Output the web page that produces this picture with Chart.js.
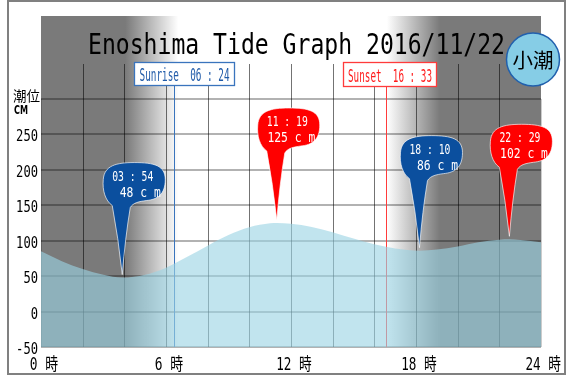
<!DOCTYPE html>
<html><head><meta charset="utf-8">
<script src="https://cdn.jsdelivr.net/npm/chart.js@4"></script>
<style>html,body{margin:0;padding:0;background:#fff;}#wrap{width:572px;height:376px;position:relative;}</style>
</head><body><div id="wrap"><canvas id="c"></canvas></div>
<script>
const titleText = "Enoshima Tide Graph 2016/11/22";
const tideName = "小潮";
const hours  = [0, 1, 2, 3, 3.9, 5, 6, 7, 8, 9, 10, 11, 11.32, 12, 13, 14, 15, 16, 17, 18.17, 19, 20, 21, 22, 22.48, 23, 24];
const tideCm = [85, 71, 60, 52, 48, 52, 62, 77, 93, 108, 119, 124.5, 125, 124, 119.5, 112, 103, 95, 89, 86, 87.5, 92, 98, 101.5, 102, 101, 98];
const extremeHours  = [3.9, 11.317, 18.167, 22.483];
const extremeCm     = [48, 125, 86, 102];
const extremeTimes  = ["03 : 54", "11 : 19", "18 : 10", "22 : 29"];
const extremeKinds  = ["low", "high", "low", "high"];
const sunriseHour = 6.4,  sunriseText = "Sunrise  06 : 24";
const sunsetHour  = 16.55, sunsetText  = "Sunset  16 : 33";
const yTicks      = [-50, 0, 50, 100, 150, 200, 250, 300];
const yTickLabels = ["-50", "0", "50", "100", "150", "200", "250", ""];
const xTickHours  = [0, 6, 12, 18, 24];
const xTickLabels = ["0 時", "6 時", "12 時", "18 時", "24 時"];
const gridHours   = [2, 4, 6, 8, 10, 12, 14, 16, 18, 20, 22];
const yAxisTitle1 = "潮位", yAxisTitle2 = "CM";

function fitText(ctx, text, x, y, font, width, align, color) {
  ctx.save();
  ctx.font = font; ctx.fillStyle = color; ctx.textBaseline = 'alphabetic'; ctx.textAlign = 'left';
  const w = ctx.measureText(text).width;
  const s = width / w;
  const left = align === 'left' ? x : (align === 'right' ? x - width : x - width / 2);
  ctx.translate(left, y); ctx.scale(s, 1);
  ctx.fillText(text, 0, 0);
  ctx.restore();
}

function balloon(ctx, px, py, color) {
  ctx.save(); ctx.translate(px, py);
  ctx.beginPath();
  ctx.moveTo(0, -3);
  ctx.quadraticCurveTo(-4, -40, -10, -72);
  ctx.bezierCurveTo(-17, -77, -20, -87, -19, -98);
  ctx.bezierCurveTo(-18, -112, -6, -115, 12, -115);
  ctx.bezierCurveTo(32, -115, 43, -112, 43, -98);
  ctx.bezierCurveTo(43, -83, 35, -78, 24, -77);
  ctx.bezierCurveTo(17, -76, 11, -75, 8, -70);
  ctx.quadraticCurveTo(3, -40, 0, -3);
  ctx.closePath();
  ctx.fillStyle = color; ctx.fill();
  ctx.strokeStyle = 'rgba(255,255,255,0.65)'; ctx.lineWidth = 1; ctx.stroke();
  ctx.restore();
}

const GRAY = '#7a7a7a';
const bgPlugin = {
  id: 'bg',
  beforeDatasetsDraw(chart) {
    const ctx = chart.ctx, xs = chart.scales.x, ys = chart.scales.y, a = chart.chartArea;
    ctx.save();
    // outer frame
    ctx.strokeStyle = '#808080'; ctx.lineWidth = 2;
    ctx.strokeRect(8, 1, 557, 373);
    // day / night background
    const top = 16, bot = a.bottom;
    const sr = xs.getPixelForValue(sunriseHour), ss = xs.getPixelForValue(sunsetHour);
    const f = p => Math.min(1, Math.max(0, (p - a.left) / (a.right - a.left)));
    const g = ctx.createLinearGradient(a.left, 0, a.right, 0);
    g.addColorStop(0, GRAY);
    g.addColorStop(f(sr - 49), GRAY);
    g.addColorStop(f(sr + 4), '#ffffff');
    g.addColorStop(f(ss + 1), '#ffffff');
    g.addColorStop(f(ss + 54), GRAY);
    g.addColorStop(1, GRAY);
    ctx.fillStyle = g;
    ctx.fillRect(a.left, top, a.right - a.left, bot - top);
    // horizontal grid
    ctx.strokeStyle = 'rgba(0,0,0,0.3)'; ctx.lineWidth = 2;
    yTicks.forEach(v => {
      const y = Math.round(ys.getPixelForValue(v));
      ctx.beginPath(); ctx.moveTo(a.left, y); ctx.lineTo(a.right, y); ctx.stroke();
    });
    // vertical grid
    ctx.strokeStyle = 'rgba(0,0,0,0.55)'; ctx.lineWidth = 1;
    gridHours.forEach(h => {
      const x = Math.round(xs.getPixelForValue(h)) + 0.5;
      ctx.beginPath(); ctx.moveTo(x, 64); ctx.lineTo(x, a.bottom); ctx.stroke();
    });
    ctx.strokeStyle = 'rgba(0,0,0,0.2)';
    [a.left, a.right].forEach(x0 => {
      const x = Math.round(x0) + 0.5;
      ctx.beginPath(); ctx.moveTo(x, a.top); ctx.lineTo(x, a.bottom); ctx.stroke();
    });
    // sunrise / sunset lines
    ctx.lineWidth = 1;
    ctx.strokeStyle = '#3a74bd';
    ctx.beginPath(); ctx.moveTo(Math.round(sr) + 0.5, 86); ctx.lineTo(Math.round(sr) + 0.5, a.bottom); ctx.stroke();
    ctx.strokeStyle = '#ff3b3b';
    ctx.beginPath(); ctx.moveTo(Math.round(ss) + 0.5, 87); ctx.lineTo(Math.round(ss) + 0.5, a.bottom); ctx.stroke();
    ctx.restore();
  }
};

const overlayPlugin = {
  id: 'overlay',
  afterDatasetsDraw(chart) {
    const ctx = chart.ctx, xs = chart.scales.x, ys = chart.scales.y, a = chart.chartArea;
    ctx.save();
    const sr = xs.getPixelForValue(sunriseHour), ss = xs.getPixelForValue(sunsetHour);
    // sunrise box
    const srL = Math.round(sr - 40) + 0.5;
    ctx.fillStyle = '#fff'; ctx.fillRect(srL, 62.5, 100, 23);
    ctx.strokeStyle = '#3a74bd'; ctx.lineWidth = 1.3; ctx.strokeRect(srL, 62.5, 100, 23);
    fitText(ctx, sunriseText, srL + 50, 81, "18px 'DejaVu Sans Mono'", 90, 'center', '#1f5aa8');
    // sunset box
    const ssL = Math.round(ss - 43) + 0.5;
    ctx.fillStyle = '#fff'; ctx.fillRect(ssL, 62.5, 93, 24);
    ctx.strokeStyle = '#ff3b3b'; ctx.lineWidth = 1.3; ctx.strokeRect(ssL, 62.5, 93, 24);
    fitText(ctx, sunsetText, ssL + 46.5, 82, "18px 'DejaVu Sans Mono'", 84, 'center', '#ff1a1a');
    // balloons
    extremeHours.forEach((h, i) => {
      const px = xs.getPixelForValue(h), py = ys.getPixelForValue(extremeCm[i]);
      balloon(ctx, px, py, extremeKinds[i] === 'low' ? '#0b4f9e' : '#ff0000');
      fitText(ctx, extremeTimes[i], px + 10.5, py - 97, "14px 'DejaVu Sans Mono'", 41, 'center', '#ffffff');
      const t2 = extremeCm[i] + " c m";
      fitText(ctx, t2, px + 38.5, py - 81, "14px 'DejaVu Sans Mono'", (String(extremeCm[i]).length + 4) * 6.83, 'right', '#ffffff');
    });
    // title
    fitText(ctx, titleText, 88, 54, "29px 'DejaVu Sans Mono'", 417, 'left', '#000');
    // badge
    ctx.beginPath(); ctx.arc(533, 59.5, 26.5, 0, Math.PI * 2);
    ctx.fillStyle = '#86cde6'; ctx.fill();
    ctx.strokeStyle = '#2160ad'; ctx.lineWidth = 1.5; ctx.stroke();
    fitText(ctx, tideName, 533, 68, "20px 'Noto Sans CJK JP'", 41, 'center', '#000');
    // y labels
    yTicks.forEach((v, i) => {
      const lab = yTickLabels[i]; if (!lab) return;
      const y = ys.getPixelForValue(v);
      fitText(ctx, lab, 38, y + 7, "15px 'DejaVu Sans Mono'", lab.length * 7.3, 'right', '#000');
    });
    fitText(ctx, yAxisTitle1, 13, 101, "14px 'Noto Sans CJK JP'", 27, 'left', '#000');
    fitText(ctx, yAxisTitle2, 14, 114, "bold 12px 'DejaVu Sans'", 14, 'left', '#000');
    // x labels
    xTickHours.forEach((h, i) => {
      const lab = xTickLabels[i];
      const units = lab.length + 1; // CJK char counts double
      const w = units * 7.1;
      let cx = xs.getPixelForValue(h) + 3;
      if (cx + w / 2 > 561) cx = 561 - w / 2;
      fitText(ctx, lab, cx, 370, "17px 'DejaVu Sans Mono', 'Noto Sans CJK JP'", w, 'center', '#000');
    });
    ctx.restore();
  }
};

new Chart(document.getElementById('c'), {
  type: 'line',
  data: {
    datasets: [{
      data: hours.map((h, i) => ({ x: h, y: tideCm[i] })),
      fill: 'start',
      backgroundColor: 'rgba(155,212,228,0.62)',
      borderWidth: 0,
      borderColor: 'rgba(0,0,0,0)',
      pointRadius: 0,
      cubicInterpolationMode: 'monotone'
    }]
  },
  options: {
    responsive: true, maintainAspectRatio: false, animation: false, devicePixelRatio: 1,
    layout: { padding: { left: 41, right: 31, top: 99, bottom: 29 } },
    plugins: { legend: { display: false }, tooltip: { enabled: false } },
    scales: {
      x: { type: 'linear', min: 0, max: 24, display: false },
      y: { min: -50, max: 300, display: false }
    }
  },
  plugins: [bgPlugin, overlayPlugin]
});
</script>
</body></html>
